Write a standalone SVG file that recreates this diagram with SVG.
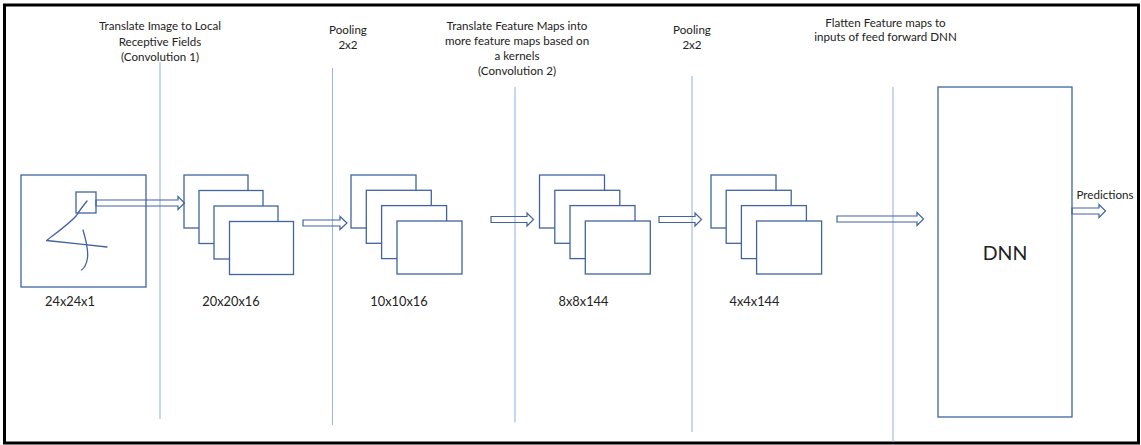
<svg xmlns="http://www.w3.org/2000/svg" width="1141" height="445" viewBox="0 0 1141 445">
  <style>
    .frame { fill: #ffffff; stroke: #000000; stroke-width: 3; }
    .divider { stroke: #9DB5E2; stroke-width: 1.1; fill: none; }
    .box { fill: #ffffff; stroke: #41649F; stroke-width: 1.3; }
    .arrow { fill: none; stroke: #41649F; stroke-width: 1.2; stroke-linejoin: miter; }
    .ink { fill: none; stroke: #41649F; stroke-width: 1.3; stroke-linecap: round; stroke-linejoin: round; }
    text { font-family: Lato, "Liberation Sans", sans-serif; fill: #222222; text-anchor: middle; }
    .note { font-size: 11.6px; }
    .dim { font-size: 12.8px; }
    .big { font-size: 19.5px; }
  </style>

  <!-- outer frame -->
  <rect class="frame" x="4.5" y="5" width="1134" height="438"/>

  <!-- stage dividers -->
  <g id="dividers">
    <line class="divider" x1="160" y1="62" x2="160" y2="419"/>
    <line class="divider" x1="332.5" y1="68" x2="332.5" y2="425"/>
    <line class="divider" x1="515" y1="87" x2="515" y2="422.5"/>
    <line class="divider" x1="692" y1="76" x2="692" y2="432"/>
    <line class="divider" x1="893" y1="87" x2="893" y2="442"/>
  </g>

  <!-- stage captions -->
  <g id="captions">
    <text class="note" x="160" y="30">Translate Image to Local</text>
    <text class="note" x="160" y="45.5">Receptive Fields</text>
    <text class="note" x="160" y="61">(Convolution 1)</text>

    <text class="note" x="348" y="33.5">Pooling</text>
    <text class="note" x="348" y="48.5">2x2</text>

    <text class="note" x="517" y="30">Translate Feature Maps into</text>
    <text class="note" x="517" y="45">more feature maps based on</text>
    <text class="note" x="517" y="60">a kernels</text>
    <text class="note" x="517" y="75">(Convolution 2)</text>

    <text class="note" x="692" y="33.5">Pooling</text>
    <text class="note" x="692" y="48.5">2x2</text>

    <text class="note" x="885.5" y="27">Flatten Feature maps to</text>
    <text class="note" x="885.5" y="41">inputs of feed forward DNN</text>
  </g>

  <!-- input image with a handwritten digit -->
  <g id="input">
    <rect class="box" x="21" y="175" width="125" height="112"/>
    <rect class="box" x="76" y="192" width="20" height="21"/>
    <path class="ink" d="M87,201 C83,206 79,211 76.5,215.5 C68,225 56,233 46.5,240.5 C65,242.5 88,245 107,247"/>
    <path class="ink" d="M83,230 C86,240 88.5,250 87.5,258 C86.5,264 84.5,268 81.5,270"/>
    <text class="dim" x="70" y="305.5">24x24x1</text>
  </g>

  <!-- convolution 1 output -->
  <g id="conv1">
    <rect class="box" x="184" y="175" width="64" height="53"/>
    <rect class="box" x="199" y="190.5" width="64" height="53"/>
    <rect class="box" x="214" y="206" width="64" height="53"/>
    <rect class="box" x="229.5" y="221.5" width="64" height="53"/>
    <text class="dim" x="231" y="305.5">20x20x16</text>
  </g>

  <!-- pooling 1 output -->
  <g id="pool1">
    <rect class="box" x="351" y="175" width="65" height="53"/>
    <rect class="box" x="366.3" y="190.3" width="65" height="53"/>
    <rect class="box" x="381.6" y="205.6" width="65" height="53"/>
    <rect class="box" x="397" y="221" width="65" height="53"/>
    <text class="dim" x="399" y="305.5">10x10x16</text>
  </g>

  <!-- convolution 2 output -->
  <g id="conv2">
    <rect class="box" x="539.5" y="175" width="65" height="53"/>
    <rect class="box" x="554.8" y="190.3" width="65" height="53"/>
    <rect class="box" x="570" y="205.6" width="65" height="53"/>
    <rect class="box" x="585.3" y="221" width="65" height="53"/>
    <text class="dim" x="583.5" y="305.5">8x8x144</text>
  </g>

  <!-- pooling 2 output -->
  <g id="pool2">
    <rect class="box" x="711" y="175" width="65" height="53"/>
    <rect class="box" x="726.2" y="190.3" width="65" height="53"/>
    <rect class="box" x="741.4" y="205.6" width="65" height="53"/>
    <rect class="box" x="756.6" y="221" width="65" height="53"/>
    <text class="dim" x="754.5" y="305.5">4x4x144</text>
  </g>

  <!-- dense network -->
  <g id="dnn">
    <rect class="box" x="938" y="87" width="134" height="330"/>
    <text class="big" x="1005" y="260">DNN</text>
  </g>

  <!-- outline block arrows between stages -->
  <g id="connectors">
    <path class="arrow" d="M96,200 H178 V196.5 L184.5,203 L178,209.5 V206 H96 Z"/>
    <path class="arrow" d="M303,220 H340 V216.5 L347,223 L340,229.5 V226 H303 Z"/>
    <path class="arrow" d="M491,216.5 H527 V213 L533.5,219.5 L527,226 V222.5 H491 Z"/>
    <path class="arrow" d="M659,216.5 H695 V213 L701.5,219.5 L695,226 V222.5 H659 Z"/>
    <path class="arrow" d="M837,216 H917 V212.5 L923.5,219 L917,225.5 V222 H837 Z"/>
    <path class="arrow" d="M1072,208 H1099 V204.5 L1105.5,211 L1099,217.5 V214 H1072 Z"/>
    <text class="note" x="1105" y="199">Predictions</text>
  </g>
</svg>
